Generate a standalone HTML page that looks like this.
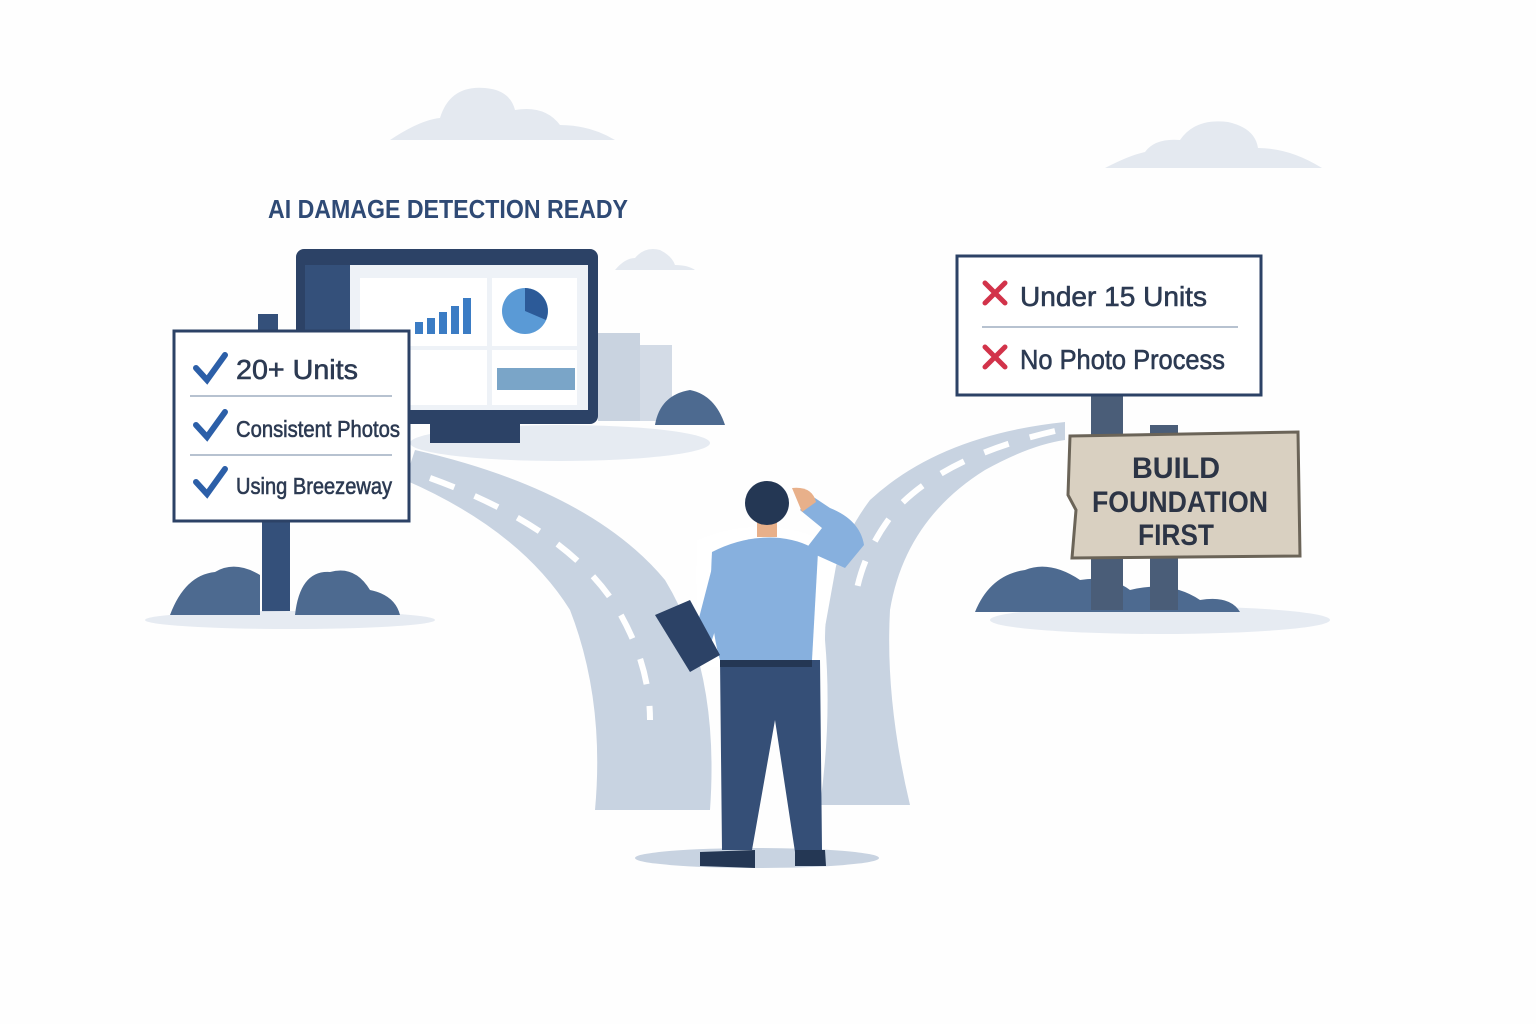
<!DOCTYPE html>
<html><head><meta charset="utf-8"><style>html,body{margin:0;padding:0;background:#fff}svg{display:block}</style></head><body>
<svg width="1536" height="1024" viewBox="0 0 1536 1024" xmlns="http://www.w3.org/2000/svg" font-family="'Liberation Sans', sans-serif">
<rect width="1536" height="1024" fill="#fefefe"/>
<g fill="#e4e9f0">
<path d="M390 140 Q420 120 440 118 Q450 85 485 88 Q510 90 515 110 Q545 105 560 125 Q590 125 615 140 Z"/>
<path d="M1105 168 Q1130 155 1145 152 Q1155 138 1180 140 Q1195 118 1228 122 Q1255 128 1258 148 Q1290 148 1322 168 Z"/>
<path d="M615 270 Q625 258 635 258 Q645 246 660 250 Q672 256 675 265 Q688 265 695 270 Z"/>
</g>
<text x="448" y="218" text-anchor="middle" font-size="26" font-weight="bold" fill="#2f4a75" textLength="360" lengthAdjust="spacingAndGlyphs">AI DAMAGE DETECTION READY</text>
<!-- roads -->
<path d="M405 480 Q520 530 570 610 Q605 700 595 810 L710 810 Q720 670 665 580 Q590 490 415 450 Z" fill="#c8d3e1"/>
<path d="M1065 422 Q940 435 870 500 Q825 560 825 640 Q832 720 820 805 L910 805 Q885 700 890 610 Q905 520 985 470 Q1030 445 1065 440 Z" fill="#c8d3e1"/>
<g stroke="#fff" stroke-width="6" stroke-dasharray="26 22" fill="none">
<path d="M430 478 Q560 525 612 600 Q650 660 650 720"/>
<path d="M1055 431 Q950 455 900 505 Q862 550 855 600"/>
</g>
<rect x="598" y="333" width="42" height="88" fill="#c9d3e0"/>
<rect x="640" y="345" width="32" height="76" fill="#d3dbe6"/>
<ellipse cx="560" cy="443" rx="150" ry="18" fill="#e6ebf2"/>
<path d="M655 425 Q660 395 690 390 Q715 395 725 425 Z" fill="#4d6a90"/>
<rect x="296" y="249" width="302" height="175" rx="8" fill="#2c4266"/>
<rect x="305" y="265" width="283" height="145" fill="#eef2f7"/>
<rect x="305" y="265" width="45" height="145" fill="#34507a"/>
<rect x="360" y="278" width="127" height="68" fill="#fff"/>
<rect x="492" y="278" width="85" height="68" fill="#fff"/>
<rect x="360" y="350" width="127" height="55" fill="#fff"/>
<rect x="492" y="350" width="85" height="55" fill="#fff"/>
<g fill="#3b7cc4"><rect x="415" y="322" width="8" height="12"/><rect x="427" y="318" width="8" height="16"/><rect x="439" y="312" width="8" height="22"/><rect x="451" y="306" width="8" height="28"/><rect x="463" y="298" width="8" height="36"/></g>
<circle cx="525" cy="311" r="23" fill="#5a9ad6"/>
<path d="M525 311 L525 288 A23 23 0 0 1 546 320 Z" fill="#2c5a98"/>
<rect x="497" y="368" width="78" height="22" fill="#7aa5c8"/>
<rect x="430" y="423" width="90" height="20" fill="#2c4266"/>
<!-- left sign -->
<rect x="258" y="314" width="20" height="18" fill="#34507a"/>
<rect x="262" y="518" width="28" height="97" fill="#34507a"/>
<ellipse cx="290" cy="620" rx="145" ry="9" fill="#e6ebf2"/>
<path d="M170 615 Q185 575 215 572 Q235 560 260 575 L260 615 Z M295 615 Q300 570 330 572 Q355 565 370 590 Q395 595 400 615 Z" fill="#4d6a90"/>
<rect x="174" y="331" width="235" height="190" fill="#fff" stroke="#2c4266" stroke-width="3"/>
<g stroke="#2c5fa8" stroke-width="6" fill="none" stroke-linecap="round"><path d="M196 368 L207 380 L225 355"/><path d="M196 425 L207 437 L225 412"/><path d="M196 482 L207 494 L225 469"/></g>
<line x1="190" y1="396" x2="392" y2="396" stroke="#b7c2d0" stroke-width="2"/>
<line x1="190" y1="455" x2="392" y2="455" stroke="#b7c2d0" stroke-width="2"/>
<g fill="#2c3a52" stroke="#2c3a52" stroke-width="0.6"><text x="236" y="379" font-size="28" textLength="122" lengthAdjust="spacingAndGlyphs">20+ Units</text>
<text x="236" y="437" font-size="23" textLength="164" lengthAdjust="spacingAndGlyphs">Consistent Photos</text>
<text x="236" y="494" font-size="23" textLength="156" lengthAdjust="spacingAndGlyphs">Using Breezeway</text></g>
<!-- right sign -->
<ellipse cx="1160" cy="620" rx="170" ry="14" fill="#e6ebf2"/>
<path d="M975 612 Q990 575 1025 570 Q1050 560 1080 580 Q1110 575 1130 590 Q1170 580 1200 600 Q1230 595 1240 612 Z" fill="#4d6a90"/>
<rect x="1091" y="395" width="32" height="215" fill="#4a5d78"/>
<rect x="1150" y="425" width="28" height="185" fill="#4a5d78"/>
<rect x="957" y="256" width="304" height="139" fill="#fff" stroke="#2c4266" stroke-width="3"/>
<line x1="982" y1="327" x2="1238" y2="327" stroke="#b7c2d0" stroke-width="2"/>
<g stroke="#d2334a" stroke-width="5" stroke-linecap="round"><path d="M985 283 L1005 303 M1005 283 L985 303"/><path d="M985 347 L1005 367 M1005 347 L985 367"/></g>
<g fill="#2c3a52" font-size="28" stroke="#2c3a52" stroke-width="0.6"><text x="1020" y="306" textLength="187" lengthAdjust="spacingAndGlyphs">Under 15 Units</text><text x="1020" y="369" textLength="205" lengthAdjust="spacingAndGlyphs">No Photo Process</text></g>
<path d="M1070 436 L1298 432 L1300 556 L1072 558 L1076 510 L1068 495 Z" fill="#d9d0c1" stroke="#6b6458" stroke-width="3"/>
<g fill="#2c3445" font-size="30" font-weight="bold" text-anchor="middle"><text x="1176" y="478" textLength="88" lengthAdjust="spacingAndGlyphs">BUILD</text><text x="1180" y="512" textLength="176" lengthAdjust="spacingAndGlyphs">FOUNDATION</text><text x="1176" y="545" textLength="76" lengthAdjust="spacingAndGlyphs">FIRST</text></g>
<!-- person -->
<ellipse cx="757" cy="858" rx="122" ry="10" fill="#c8d3e1"/>
<path d="M704 545 Q740 530 780 535 Q820 540 830 560 L812 660 L715 660 Q700 620 704 545 Z" fill="#fff" stroke="#fff" stroke-width="14"/>
<path d="M720 660 L820 660 L822 850 L795 852 L775 720 L752 850 L722 850 Z" fill="#354f77"/>
<rect x="720" y="655" width="92" height="12" fill="#243754"/>
<path d="M712 552 Q745 535 780 538 Q805 541 818 552 L812 660 L720 660 Q708 620 712 552 Z" fill="#87b0de"/>
<path d="M805 550 L845 568 L864 545 Q860 520 830 508 L812 496 L800 510 L822 528 Z" fill="#87b0de"/>
<path d="M714 560 L692 645 L708 652 L730 585 Z" fill="#87b0de"/>
<path d="M655 615 L690 600 L720 655 L690 672 Z" fill="#2c4266"/>
<path d="M792 488 Q812 486 816 502 L802 512 Z" fill="#e8b08a"/>
<rect x="757" y="515" width="20" height="22" fill="#e8b08a"/>
<circle cx="767" cy="503" r="22" fill="#243754"/>
<path d="M700 852 L755 850 L755 868 L700 866 Z M795 850 L825 850 L826 866 L795 866 Z" fill="#243754"/>
</svg>
</body></html>
